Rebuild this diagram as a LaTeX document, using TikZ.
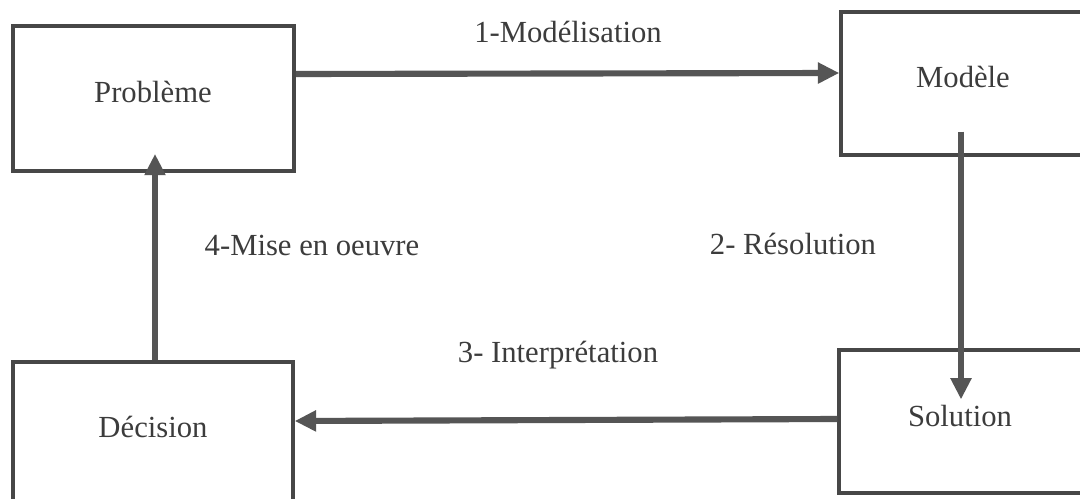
\documentclass[tikz,border=0pt]{standalone}
\usepackage{fontspec}
\setmainfont{Liberation Serif}
\usetikzlibrary{arrows.meta,calc}
\definecolor{boxline}{HTML}{474747}
\definecolor{arrowline}{HTML}{555555}
\definecolor{labeltext}{HTML}{3C3C3C}
\begin{document}
\begin{tikzpicture}[x=0.75pt,y=-0.75pt,
  stage/.style={draw=boxline, line width=2.6pt, fill=white, inner sep=0pt,
    text=labeltext, font=\fontsize{23}{27}\selectfont},
  flow/.style={draw=arrowline, line width=4.6pt,
    -{Triangle[length=16pt,width=15pt]}},
  steplabel/.style={text=labeltext, font=\fontsize{23}{27}\selectfont, inner sep=0pt}]
\useasboundingbox (0,0) rectangle (1080,499);
\clip (0,0) rectangle (1080,499);
\fill[white] (0,0) rectangle (1080,499);

% the four stages
\node[stage, minimum width=211pt, minimum height=109pt] (prob) at (153.5,98.5) {};
\node[stage, minimum width=183pt, minimum height=107pt] (mod)  at (963,83.5) {};
\node[stage, minimum width=183pt, minimum height=107pt] (sol)  at (961,421.5) {};
\node[stage, minimum width=210pt, minimum height=109pt] (dec)  at (153,434.5) {};

\node[steplabel] (tprob) at (153,92)  {Problème};
\node[steplabel] (tmod)  at (963,77)  {Modèle};
\node[steplabel] (tsol)  at (960,416) {Solution};
\node[steplabel] (tdec)  at (153,427) {Décision};

% transitions between stages
\draw[flow] (prob.east |- 0,74) -- (mod.west |- 0,73);
\draw[flow] ($(mod.south)+(-2,-25)$) -- ($(sol.north)+(0,51)$);
\draw[flow] (sol.west |- 0,419) -- (dec.east |- 0,421);
\draw[flow] (dec.north -| 155,0) -- ($(prob.south -| 155,0)+(0,-19)$);

% step labels
\node[steplabel] (l1) at (568,32)  {1-Modélisation};
\node[steplabel] (l2) at (793,244) {2- Résolution};
\node[steplabel] (l3) at (558,355) {3- Interprétation};
\node[steplabel] (l4) at (312,245) {4-Mise en oeuvre};
\end{tikzpicture}
\end{document}
